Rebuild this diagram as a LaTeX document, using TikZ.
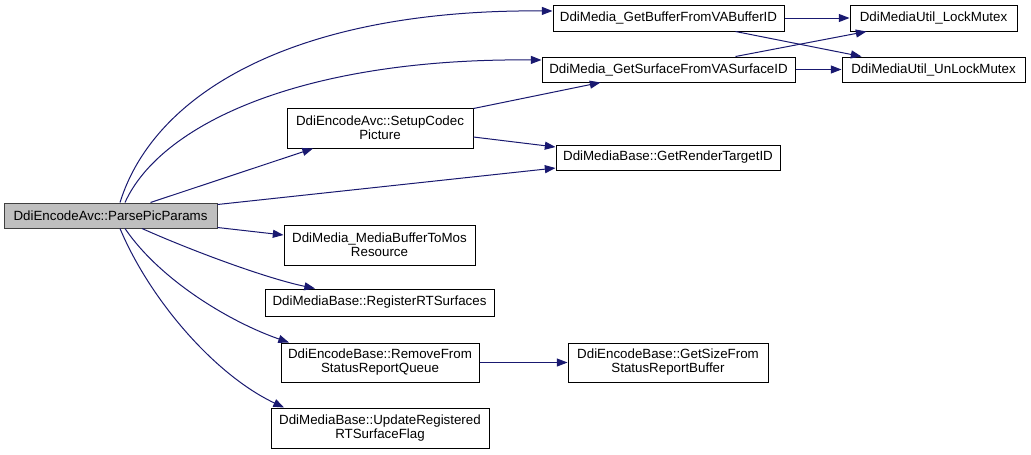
\documentclass[tikz,border=0pt]{standalone}
\usepackage{fontspec}
\setmainfont{Liberation Sans}
\usetikzlibrary{arrows.meta,calc}
\begin{document}
\begin{tikzpicture}[x=0.75pt,y=-0.75pt,
  box/.style 2 args={draw=black,line width=0.75pt,fill=white,inner sep=0pt,align=center,
    minimum width=#1*0.75pt,minimum height=#2*0.75pt,
    font=\fontsize{10}{10.5}\selectfont},
  cur/.style={fill=black!25,draw=black!75},
  call/.style={draw=midnightblue,line width=0.75pt,-{Triangle[length=8pt,width=6pt]},shorten >=0pt}
]
\definecolor{midnightblue}{HTML}{191970}
\useasboundingbox (0,0) rectangle (1031,454);
\fill[white] (0,0) rectangle (1031,454);

\node[box={213}{25},cur] (parse) at (110.5,215.5) {DdiEncodeAvc::ParsePicParams};
\node[box={186}{40}] (setup) at (380,128) {DdiEncodeAvc::SetupCodec\\Picture};
\node[box={231}{26}] (getbuf) at (668.5,18) {DdiMedia\_GetBufferFromVABufferID};
\node[box={167}{26}] (lock) at (933.5,18) {DdiMediaUtil\_LockMutex};
\node[box={253}{25}] (getsurf) at (668.5,69.5) {DdiMedia\_GetSurfaceFromVASurfaceID};
\node[box={183}{25}] (unlock) at (933.5,69.5) {DdiMediaUtil\_UnLockMutex};
\node[box={224}{25}] (render) at (668,157.5) {DdiMediaBase::GetRenderTargetID};
\node[box={191}{40}] (mbuf) at (379.5,245) {DdiMedia\_MediaBufferToMos\\Resource};
\node[box={229}{27}] (reg) at (379.5,302.5) {DdiMediaBase::RegisterRTSurfaces};
\node[box={198}{39}] (remove) at (380,362.5) {DdiEncodeBase::RemoveFrom\\StatusReportQueue};
\node[box={218}{40}] (update) at (380,428) {DdiMediaBase::UpdateRegistered\\RTSurfaceFlag};
\node[box={200}{39}] (getsize) at (668,362.5) {DdiEncodeBase::GetSizeFrom\\StatusReportBuffer};

\draw[call] ($(parse.north)+(9.5,0)$) .. controls (155,90) and (300,9) .. ($(getbuf.west)+(0,-7)$);
\draw[call] ($(parse.north)+(14.5,0)$) .. controls (160,125) and (300,58) .. ($(getsurf.west)+(0,-9.5)$);
\draw[call] ($(parse.north)+(40,0)$) -- ($(setup.south)+(-67,0)$);
\draw[call] ($(parse.east)+(0,-11)$) -- ($(render.west)+(0,10.5)$);
\draw[call] ($(setup.north east)+(0,1)$) -- ($(getsurf.south)+(-68,0)$);
\draw[call] ($(setup.east)+(0,9)$) -- ($(render.west)+(0,-10.5)$);
\draw[call] (getbuf.east) -- (lock.west);
\draw[call] ($(getbuf.south)+(67,0)$) -- ($(unlock.north)+(-72,0)$);
\draw[call] ($(getsurf.north)+(67,0)$) -- ($(lock.south)+(-67,0)$);
\draw[call] (getsurf.east) -- (unlock.west);
\draw[call] ($(parse.east)+(0,12)$) -- ($(mbuf.west)+(0,-10)$);
\draw[call] ($(parse.south)+(31.5,0)$) .. controls (190,250) and (265,278) .. ($(reg.north)+(-64.5,0)$);
\draw[call] ($(parse.south)+(14.5,0)$) .. controls (160,280) and (230,322) .. ($(remove.north)+(-91,0)$);
\draw[call] ($(parse.south)+(9.5,0)$) .. controls (150,300) and (215,375) .. ($(update.north)+(-96,0)$);
\draw[call] (remove.east) -- (getsize.west);
\end{tikzpicture}
\end{document}
